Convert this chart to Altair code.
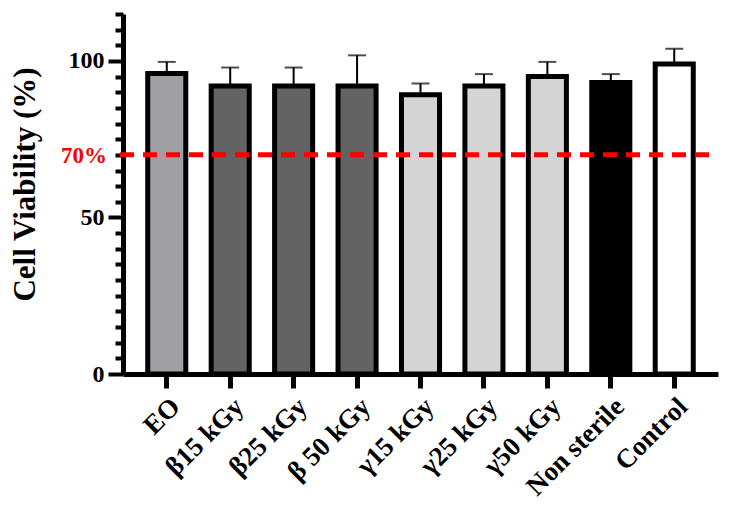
import altair as alt
import pandas as pd

categories = ["EO", "β15 kGy", "β25 kGy", "β 50 kGy", "γ15 kGy", "γ25 kGy", "γ50 kGy", "Non sterile", "Control"]
means = [96.0, 92.0, 92.0, 92.0, 89.2, 92.0, 95.0, 93.1, 99.0]
errors = [3.7, 5.9, 5.9, 9.8, 3.6, 3.8, 4.7, 2.7, 4.9]
fills = ["#A0A0A4", "#636363", "#636363", "#636363", "#D4D4D4", "#D4D4D4", "#D4D4D4", "#000000", "#FFFFFF"]
threshold = [70]
threshold_label = ["70%"]

df = pd.DataFrame({
    "cat": categories,
    "mean": means,
    "upper": [m + e for m, e in zip(means, errors)],
    "fill": fills,
})
thr = pd.DataFrame({"y": threshold, "label": threshold_label})

FONT = "Liberation Serif"
YTITLE = "Cell Viability (%)"

xscale = alt.Scale(paddingInner=0.40, paddingOuter=0.39)
yscale = alt.Scale(domain=[0, 115], nice=False, zero=True)

x_axis = alt.Axis(
    labelAngle=-45, labelFont=FONT, labelFontSize=27, labelFontWeight="bold",
    labelColor="black", tickSize=14, tickWidth=5, tickColor="black",
    domainWidth=5, domainColor="black", labelPadding=5, labelBound=False,
    labelOverlap=False,
)
y_axis = alt.Axis(
    values=list(range(0, 116, 5)),
    labelExpr="datum.value % 50 === 0 ? datum.label : ''",
    labelOverlap=False,
    tickSize={"condition": {"test": "datum.value % 50 === 0", "value": 15}, "value": 8},
    tickWidth=4, tickColor="black", domainWidth=5, domainColor="black",
    labelFont=FONT, labelFontSize=24, labelFontWeight="bold", labelColor="black",
    labelPadding=4, grid=False,
    titleFont=FONT, titleFontSize=31, titleFontWeight="bold", titleColor="black",
    titleX=-82, titleY=170, titleAngle=-90, titleBaseline="bottom", titleAlign="center",
)


def xe():
    return alt.X("cat:N", sort=categories, scale=xscale, axis=x_axis, title=None)


def ye(field):
    return alt.Y(field, scale=yscale, axis=y_axis, title=YTITLE)


base = alt.Chart(df)

bars = base.mark_bar(stroke="black", strokeWidth=5).encode(
    x=xe(),
    y=ye("mean:Q"),
    fill=alt.Fill("fill:N", scale=None),
)

err = base.mark_rule(color="black", strokeWidth=2).encode(
    x=xe(),
    y=ye("mean:Q"),
    y2="upper:Q",
)

caps = base.mark_tick(color="black", thickness=2, size=18, orient="horizontal").encode(
    x=xe(),
    y=ye("upper:Q"),
)

redline = alt.Chart(thr).mark_rule(color="#FF0000", strokeWidth=5, strokeDash=[14, 9]).encode(
    y=ye("y:Q"),
    x=alt.value(-3),
    x2=alt.value(587),
)

redtext = alt.Chart(thr).mark_text(
    color="#FF0000", font=FONT, fontSize=23, fontWeight="bold", align="right", baseline="middle", dy=1
).encode(
    y=ye("y:Q"),
    x=alt.value(-16),
    text="label:N",
)

chart = alt.layer(bars, err, caps, redline, redtext).properties(
    width=595, height=360,
    autosize=alt.AutoSizeParams(type="none"),
    padding={"left": 115, "top": 6, "right": 4, "bottom": 130},
).configure(background="white").configure_view(stroke=None)

chart.save("out.html", embed_options={"renderer": "svg", "actions": False})
